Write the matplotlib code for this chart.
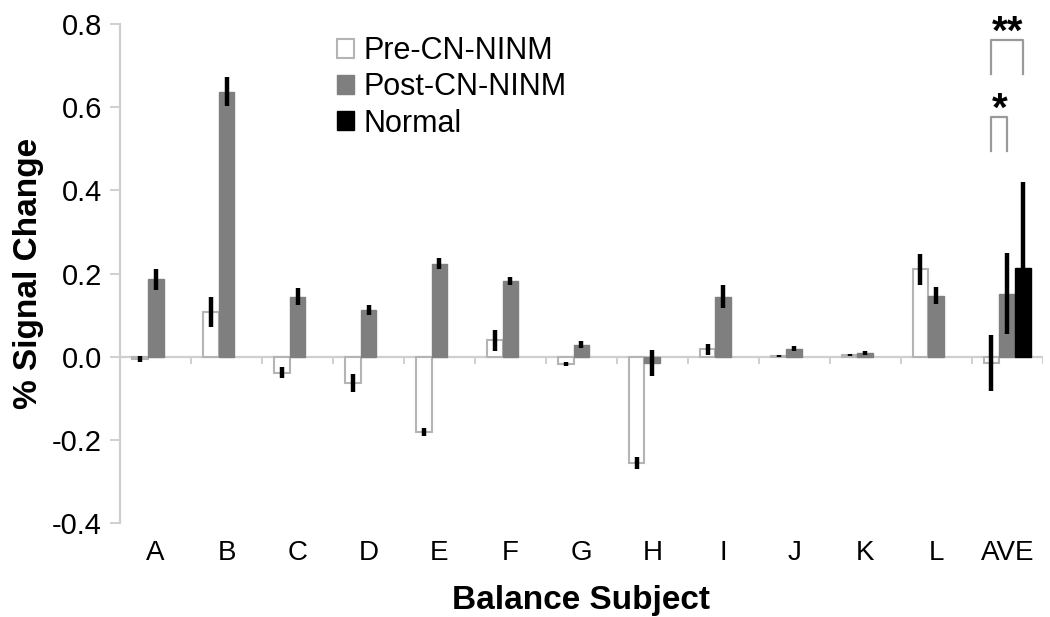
import numpy as np
import matplotlib
matplotlib.use('Agg')
import matplotlib.pyplot as plt

plt.rcParams['font.family'] = ['Liberation Sans', 'DejaVu Sans']

# data
subjects = ['A', 'B', 'C', 'D', 'E', 'F', 'G', 'H', 'I', 'J', 'K', 'L', 'AVE']
pre = [-0.005, 0.108, -0.038, -0.063, -0.180, 0.040, -0.017, -0.255, 0.018, 0.002, 0.004, 0.210, -0.015]
pre_err = [0.008, 0.037, 0.013, 0.022, 0.010, 0.025, 0.004, 0.015, 0.013, 0.003, 0.003, 0.037, 0.067]
post = [0.186, 0.637, 0.145, 0.113, 0.224, 0.183, 0.029, -0.015, 0.145, 0.020, 0.010, 0.147, 0.152]
post_err = [0.025, 0.035, 0.020, 0.012, 0.013, 0.010, 0.008, 0.032, 0.027, 0.007, 0.005, 0.020, 0.098]
normal = [0.213]
normal_err = [0.208]

x = np.arange(len(subjects))
w = 0.225

fig = plt.figure(figsize=(10.5, 6.17), dpi=100)
ax = fig.add_axes([0.1143, 0.152, 0.879, 0.809])

ekw = dict(ecolor='black', elinewidth=3.2, capsize=0)
ax.bar(x - w, pre, w, yerr=pre_err, color='white', edgecolor='#b4b4b4',
       linewidth=1.5, error_kw=ekw, label='Pre-CN-NINM', zorder=3)
ax.bar(x, post, w, yerr=post_err, color='#7f7f7f', edgecolor='#7f7f7f',
       linewidth=1, error_kw=ekw, label='Post-CN-NINM', zorder=3)
ax.bar(x[-1:] + w, normal, w, yerr=normal_err, color='black', edgecolor='black',
       linewidth=1, error_kw=ekw, label='Normal', zorder=3)

# category axis crossing at zero
ax.axhline(0, color='#cfcfcf', lw=1.6, zorder=2)
for b in np.arange(0.5, len(subjects), 1.0):
    ax.plot([b, b], [0, -0.016], color='#cfcfcf', lw=1.4, zorder=2)

# significance brackets
gray = '#9a9a9a'
xa, xb = x[-1] - w, x[-1]
ax.plot([xa, xa, xb, xb], [0.496, 0.576, 0.576, 0.496], color=gray, lw=1.6)
ax.text((xa + xb) / 2, 0.548, '*', ha='center', va='bottom', fontsize=29, fontweight='bold')
xa, xb = x[-1] - w, x[-1] + w
ax.plot([xa, xa, xb, xb], [0.68, 0.762, 0.762, 0.68], color=gray, lw=1.6)
ax.text((xa + xb) / 2, 0.734, '**', ha='center', va='bottom', fontsize=29, fontweight='bold')

ax.set_xlim(-0.5, len(subjects) - 0.5)
ax.set_ylim(-0.4, 0.8)
ax.set_yticks(np.arange(-0.4, 0.81, 0.2))
ax.set_yticklabels([f'{v:.1f}' for v in np.arange(-0.4, 0.81, 0.2)])
ax.set_xticks(x)
ax.set_xticklabels(subjects)
ax.tick_params(axis='x', length=0, pad=12, labelsize=20)
ax.tick_params(axis='y', length=7, color='#cfcfcf', width=1.4, pad=6, labelsize=21)

for s in ['top', 'right', 'bottom']:
    ax.spines[s].set_visible(False)
ax.spines['left'].set_color('#cfcfcf')
ax.spines['left'].set_linewidth(1.6)

ax.set_xlabel('Balance Subject', fontsize=24, fontweight='bold', labelpad=14)
ax.set_ylabel('% Signal Change', fontsize=24, fontweight='bold', labelpad=6)

ax.legend(loc='upper left', bbox_to_anchor=(0.222, 1.0), frameon=False,
          fontsize=22, handlelength=0.56, handleheight=0.56, handletextpad=0.3,
          labelspacing=0.2, borderaxespad=0)

fig.savefig('out.png', dpi=100)
